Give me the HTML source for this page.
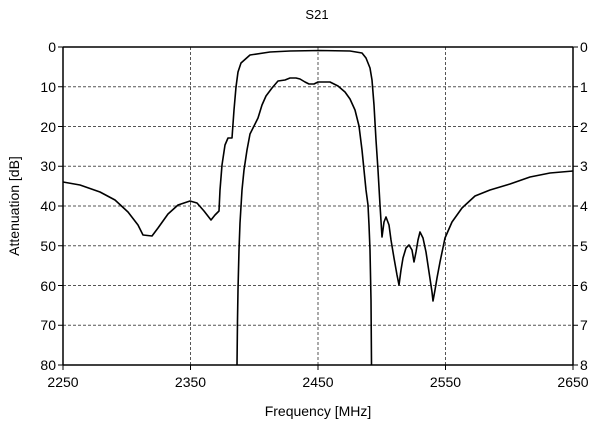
<!DOCTYPE html>
<html><head><meta charset="utf-8"><style>
html,body{margin:0;padding:0;background:#fff;}
svg{display:block;font-family:"Liberation Sans","DejaVu Sans",sans-serif;}
</style></head><body>
<svg width="600" height="427" viewBox="0 0 600 427" xmlns="http://www.w3.org/2000/svg">
<rect width="600" height="427" fill="#fff"/>
<text x="317" y="19" font-size="13" text-anchor="middle">S21</text>
<g stroke="#555" stroke-width="1" stroke-dasharray="3,2">
<line x1="190.5" y1="47" x2="190.5" y2="365"/>
<line x1="318" y1="47" x2="318" y2="365"/>
<line x1="445.5" y1="47" x2="445.5" y2="365"/>
<line x1="63" y1="86.75" x2="573" y2="86.75"/>
<line x1="63" y1="126.5" x2="573" y2="126.5"/>
<line x1="63" y1="166.25" x2="573" y2="166.25"/>
<line x1="63" y1="206" x2="573" y2="206"/>
<line x1="63" y1="245.75" x2="573" y2="245.75"/>
<line x1="63" y1="285.5" x2="573" y2="285.5"/>
<line x1="63" y1="325.25" x2="573" y2="325.25"/>
</g>
<g stroke="#000" stroke-width="1.5" fill="none">
<line x1="63" y1="47" x2="573" y2="47"/>
<line x1="63" y1="365" x2="573" y2="365"/>
<line x1="63" y1="47" x2="63" y2="365"/>
<line x1="573" y1="47" x2="573" y2="365"/>
</g>
<g stroke="#000" stroke-width="1">
<line x1="58" y1="47" x2="63" y2="47"/><line x1="58" y1="86.75" x2="63" y2="86.75"/><line x1="58" y1="126.5" x2="63" y2="126.5"/><line x1="58" y1="166.25" x2="63" y2="166.25"/><line x1="58" y1="206" x2="63" y2="206"/><line x1="58" y1="245.75" x2="63" y2="245.75"/><line x1="58" y1="285.5" x2="63" y2="285.5"/><line x1="58" y1="325.25" x2="63" y2="325.25"/><line x1="58" y1="365" x2="63" y2="365"/>
<line x1="573" y1="47" x2="578" y2="47"/><line x1="573" y1="86.75" x2="578" y2="86.75"/><line x1="573" y1="126.5" x2="578" y2="126.5"/><line x1="573" y1="166.25" x2="578" y2="166.25"/><line x1="573" y1="206" x2="578" y2="206"/><line x1="573" y1="245.75" x2="578" y2="245.75"/><line x1="573" y1="285.5" x2="578" y2="285.5"/><line x1="573" y1="325.25" x2="578" y2="325.25"/><line x1="573" y1="365" x2="578" y2="365"/>
<line x1="63" y1="365" x2="63" y2="370"/><line x1="190.5" y1="365" x2="190.5" y2="370"/><line x1="318" y1="365" x2="318" y2="370"/><line x1="445.5" y1="365" x2="445.5" y2="370"/><line x1="573" y1="365" x2="573" y2="370"/>
</g>
<g font-size="14" fill="#000" text-anchor="end">
<text x="56" y="52">0</text><text x="56" y="92">10</text><text x="56" y="132">20</text><text x="56" y="171">30</text><text x="56" y="211">40</text><text x="56" y="251">50</text><text x="56" y="291">60</text><text x="56" y="330">70</text><text x="56" y="370">80</text>
</g>
<g font-size="14" fill="#000" text-anchor="start">
<text x="580" y="52">0</text><text x="580" y="92">1</text><text x="580" y="132">2</text><text x="580" y="171">3</text><text x="580" y="211">4</text><text x="580" y="251">5</text><text x="580" y="291">6</text><text x="580" y="330">7</text><text x="580" y="370">8</text>
</g>
<g font-size="14" fill="#000" text-anchor="middle">
<text x="63" y="387">2250</text><text x="190.5" y="387">2350</text><text x="318" y="387">2450</text><text x="445.5" y="387">2550</text><text x="573" y="387">2650</text>
</g>
<text x="318" y="416" font-size="14" text-anchor="middle">Frequency [MHz]</text>
<text transform="translate(19,206) rotate(-90)" font-size="14" text-anchor="middle">Attenuation [dB]</text>
<g stroke="#000" stroke-width="1.6" fill="none" stroke-linejoin="round">
<polyline points="63,182 80,185 100,192 115,200 128,212 138,225 143,235 152,236 158,228 168,214 178,205 190,201 197,203 204,211 211,220 215,215 219,211 220,190 222,165 225,145 228,138 232,138 234,110 236,87 238,72 241,63 250,55 270,52 290,51 320,50.5 350,51 362,53 366,58 370,68 372,80 374,105 376,140 378,170 380,205 382,237 384,222 386,217 389,225 391,240 394,258 397,275 399,285 401,270 403,258 406,248 409,245 412,250 414,262 416,252 418,240 420,232 423,238 426,252 429,272 432,292 433,301 435,290 437,278 440,262 445,238 452,222 462,208 475,196 490,190 510,184 530,177 550,173 573,171"/>
<polyline points="237,365 237.5,320 238,290 239,250 240,223 242,190 244,170 247,150 250,134 254,126 258,118 262,105 266,96 272,88 278,81 285,80 290,78 296,78 300,79 305,82 309,84 314,84 318,82 324,82 330,82 338,86 345,92 350,99 355,110 359,126 362,150 364,170 366,190 368,205 369,225 370,250 371,300 371.5,365"/>
</g>
</svg>
</body></html>
